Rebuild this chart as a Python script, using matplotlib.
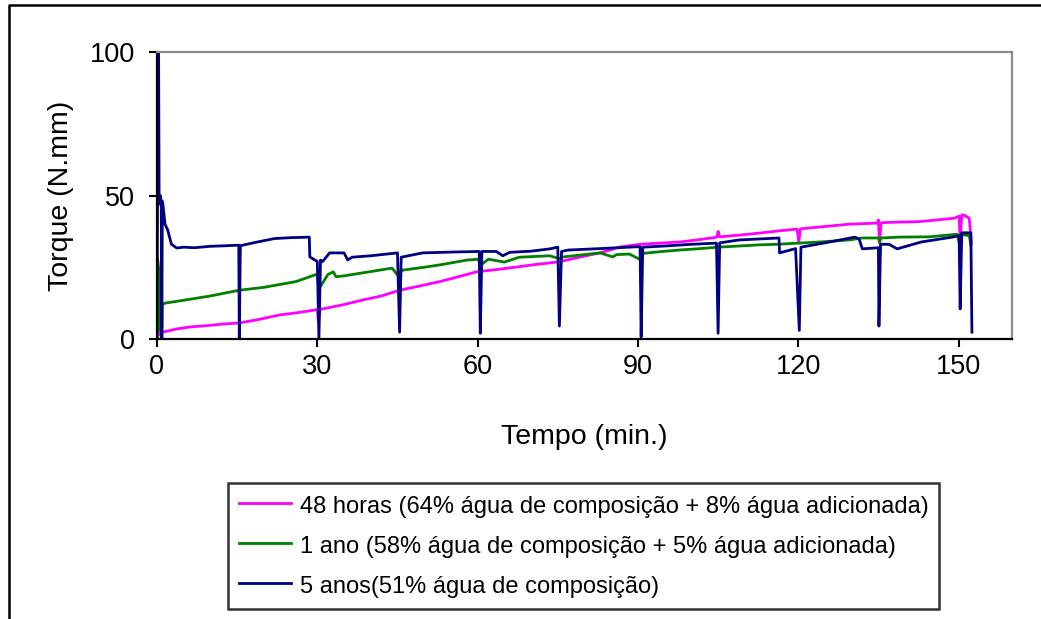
import matplotlib
matplotlib.use("Agg")
import matplotlib.pyplot as plt
from matplotlib.lines import Line2D

plt.rcParams['font.family'] = ['Liberation Sans', 'DejaVu Sans']

# ---- data ----
t_48h = [0.0, 0.2, 0.5, 1.1, 3.7, 6.2, 9.0, 12.3, 15.5, 19.0, 23.0, 26.0, 29.2, 30.0, 30.2, 30.5, 31.0,
         35.0, 38.5, 42.0, 45.4, 49.0, 52.9, 56.0, 59.8, 64.0, 67.8, 71.0, 75.3, 79.0, 82.9, 86.5, 88.4,
         90.3, 94.0, 97.8, 101.0, 104.8, 105.0, 105.3, 109.0, 112.7, 116.0, 119.8, 120.1, 120.4, 125.0,
         129.5, 134.8, 135.0, 135.2, 135.5, 138.0, 142.6, 146.0, 149.2, 150.1, 150.3, 150.6, 151.0, 152.0, 152.4]
v_48h = [0.0, 2.5, 1.4, 2.4, 3.5, 4.2, 4.6, 5.2, 5.6, 6.8, 8.4, 9.1, 10.0, 10.3, 6.0, 10.2, 10.5,
         12.0, 13.6, 15.0, 17.0, 18.4, 20.0, 21.5, 23.4, 24.3, 25.2, 26.0, 26.9, 28.5, 30.0, 32.0, 32.5,
         33.0, 33.4, 33.8, 34.5, 35.5, 37.5, 35.6, 36.2, 36.9, 37.6, 38.3, 33.8, 38.4, 39.2,
         40.0, 40.4, 41.5, 33.4, 40.5, 40.7, 40.9, 41.5, 42.1, 42.8, 34.5, 43.2, 43.2, 42.1, 33.4]

t_1ano = [0.0, 0.1, 0.3, 0.5, 0.9, 1.0, 1.5, 5.0, 10.0, 15.4, 20.0, 23.0, 26.0, 29.8, 30.0, 30.3, 32.0,
          33.0, 33.5, 35.0, 40.0, 44.0, 45.0, 46.0, 50.0, 53.5, 58.0, 60.2, 60.4, 62.0, 65.0, 67.8,
          73.5, 75.3, 76.0, 80.0, 82.9, 85.3, 86.0, 88.4, 90.3, 90.8, 94.0, 97.8, 101.0, 105.0, 108.0,
          112.7, 116.0, 120.0, 124.0, 129.5, 132.0, 135.0, 135.2, 135.5, 138.9, 144.5, 149.7, 150.1,
          150.4, 152.0, 152.3]
v_1ano = [0.0, 28.0, 25.0, 3.0, 3.0, 12.0, 12.5, 13.5, 15.0, 17.0, 18.0, 19.0, 20.0, 22.5, 22.5, 17.5, 22.5,
          23.4, 21.7, 22.0, 23.5, 24.7, 22.3, 24.0, 25.0, 26.0, 27.5, 27.8, 25.5, 27.8, 26.8, 28.5,
          29.0, 28.0, 28.6, 29.4, 30.0, 28.6, 29.4, 29.6, 27.8, 29.8, 30.4, 31.0, 31.4, 32.0, 32.3,
          32.8, 33.0, 33.4, 33.8, 34.5, 35.2, 35.2, 33.8, 35.2, 35.5, 35.6, 36.5, 33.8,
          36.5, 36.0, 32.8]

t_5anos = [0.0, 0.2, 0.3, 0.4, 0.6, 0.8, 0.9, 1.0, 1.1, 1.5, 2.0, 2.7, 3.7, 5.0, 7.0, 10.0, 13.0, 15.3,
           15.4, 15.6, 18.0, 22.0, 25.0, 28.5, 28.6, 30.0, 30.3, 30.6, 31.0, 32.3, 35.0, 35.7, 36.5, 40.0,
           45.0, 45.4, 45.7, 49.7, 55.3, 60.3, 60.5, 60.8, 63.5, 64.7, 66.0, 70.0, 73.5, 75.0, 75.3,
           75.7, 77.0, 82.9, 88.4, 90.4, 90.6, 90.9, 95.0, 100.0, 104.7, 105.0, 105.3, 108.9, 116.4,
           116.5, 119.5, 120.2, 120.5, 125.0, 130.6, 131.4, 132.0, 135.0, 135.1, 135.4, 137.0, 138.5,
           143.0, 148.8, 150.1, 150.3, 150.6, 152.3, 152.5]
v_5anos = [0.0, 100.0, 100.0, 47.0, 50.0, 48.0, 0.0, 48.0, 47.0, 40.0, 38.0, 33.0, 31.7, 32.0, 31.8, 32.3, 32.5, 32.7,
           0.0, 32.5, 33.5, 35.0, 35.3, 35.5, 28.6, 27.0, 0.0, 27.5, 27.0, 30.0, 30.0, 27.5, 28.5, 29.0,
           30.0, 2.4, 28.5, 30.0, 30.3, 30.5, 2.0, 30.5, 30.5, 29.0, 30.2, 30.6, 31.4, 32.0, 4.5,
           30.5, 31.0, 31.5, 32.0, 32.2, 0.7, 32.0, 32.4, 33.0, 33.4, 2.0, 33.5, 34.5, 35.2,
           30.0, 31.5, 3.0, 32.0, 33.5, 35.5, 34.8, 31.4, 31.8, 4.5, 33.0, 33.0, 31.4,
           33.8, 35.5, 36.0, 10.5, 37.0, 37.0, 2.4]

labels = ["48 horas (64% água de composição + 8% água adicionada)",
          "1 ano (58% água de composição + 5% água adicionada)",
          "5 anos(51% água de composição)"]
colors = ["#FF00FF", "#008000", "#000080"]

xticks = [0, 30, 60, 90, 120, 150]
yticks = [0, 50, 100]

W, H = 1041, 619
fig = plt.figure(figsize=(W / 100, H / 100), dpi=100)
ax = fig.add_axes([157 / W, 1 - 339 / H, (1012 - 157) / W, (339 - 52) / H])

for t, v, c, lab in [(t_48h, v_48h, colors[0], labels[0]),
                     (t_1ano, v_1ano, colors[1], labels[1]),
                     (t_5anos, v_5anos, colors[2], labels[2])]:
    ax.plot(t, v, color=c, lw=2.0, label=lab)

ax.set_xlim(0, 160)
ax.set_ylim(0, 100)
ax.set_xticks(xticks)
ax.set_yticks(yticks)
ax.tick_params(axis='both', direction='out', length=6, width=1.5, labelsize=19.5, color='black')
ax.tick_params(axis='y', pad=10)
ax.tick_params(axis='x', pad=5)

for side in ['left', 'bottom']:
    ax.spines[side].set_color('black')
    ax.spines[side].set_linewidth(1.6)
for side in ['top', 'right']:
    ax.spines[side].set_color('#8c8c8c')
    ax.spines[side].set_linewidth(1.6)

ax.set_xlabel("Tempo (min.)", fontsize=20.5, labelpad=31.5)
ax.set_ylabel("Torque (N.mm)", fontsize=20.5, labelpad=11)

leg = ax.legend(loc='upper left', bbox_to_anchor=(228 / W, 1 - 483 / H), bbox_transform=fig.transFigure,
                fontsize=17, frameon=True, fancybox=False, handlelength=2.2, handletextpad=0.4,
                handleheight=1.1, borderpad=0.45, labelspacing=0.66, borderaxespad=0)
leg.get_frame().set_edgecolor('black')
leg.get_frame().set_linewidth(1.8)
for h in leg.get_lines():
    h.set_linewidth(2)

# figure frame (left and top edges visible in reference)
fig.add_artist(Line2D([9 / W, 9 / W, 1.0], [0.0, 1 - 5 / H, 1 - 5 / H],
                      transform=fig.transFigure, color='black', lw=1.8))

fig.savefig("out.png", dpi=100)
